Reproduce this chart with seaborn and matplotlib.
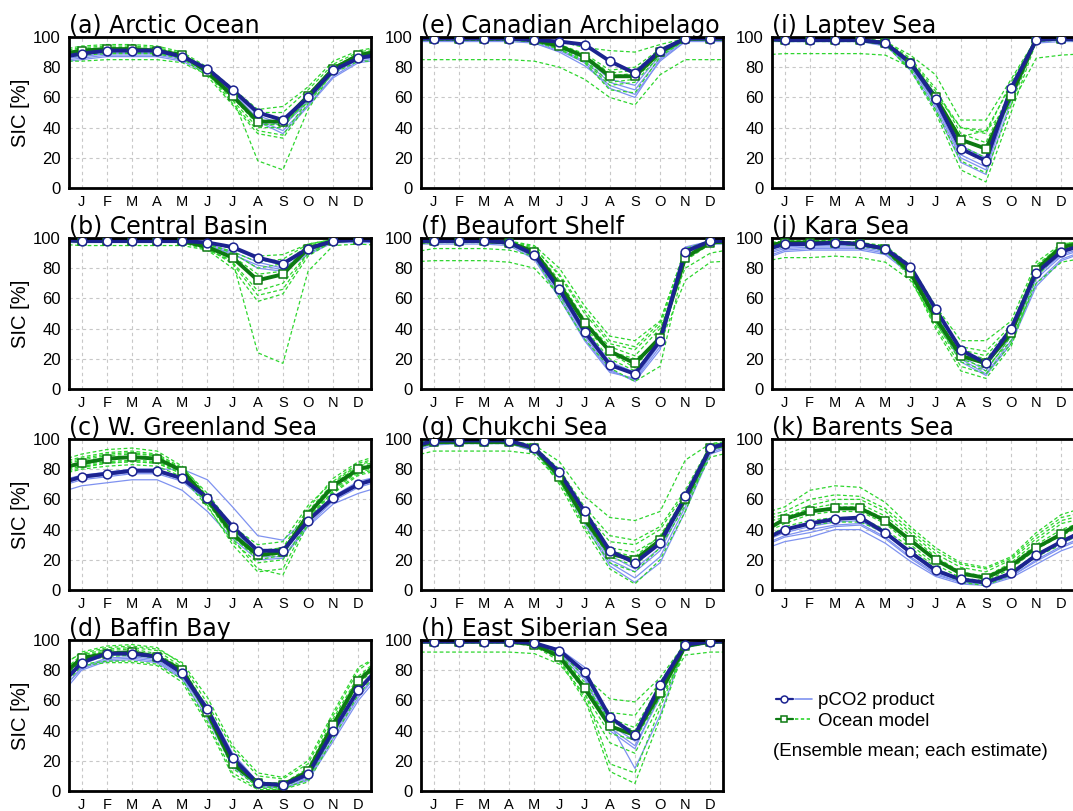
import numpy as np
import pandas as pd
import matplotlib
matplotlib.use("Agg")
import matplotlib.pyplot as plt
import seaborn as sns
from matplotlib.lines import Line2D
from matplotlib.legend_handler import HandlerTuple
from matplotlib.ticker import MultipleLocator

# ---------------- data ----------------
month_labels = ['J', 'F', 'M', 'A', 'M', 'J', 'J', 'A', 'S', 'O', 'N', 'D']
titles = ['(a) Arctic Ocean', '(b) Central Basin', '(c) W. Greenland Sea', '(d) Baffin Bay',
          '(e) Canadian Archipelago', '(f) Beaufort Shelf', '(g) Chukchi Sea', '(h) East Siberian Sea',
          '(i) Laptev Sea', '(j) Kara Sea', '(k) Barents Sea']

a_pco2_mean = [89, 91, 91, 91, 87, 79, 65, 50, 45, 60, 78, 86]
a_ocean_mean = [91, 92, 92, 91, 88, 77, 61, 44, 44, 61, 79, 88]
a_pco2_each = [[87, 89, 89, 89, 86, 78, 63, 46, 41, 57, 76, 85],
               [86, 88, 88, 88, 85, 77, 62, 45, 38, 55, 74, 84],
               [88, 90, 90, 90, 86, 79, 64, 48, 42, 58, 77, 86],
               [85, 87, 87, 87, 84, 76, 61, 44, 36, 54, 73, 83]]
a_ocean_each = [[93, 94, 94, 93, 89, 79, 64, 50, 50, 65, 82, 90],
                [90, 91, 91, 90, 87, 76, 58, 40, 40, 60, 80, 88],
                [88, 89, 89, 89, 86, 77, 60, 18, 12, 52, 78, 86],
                [84, 85, 85, 85, 83, 75, 60, 42, 42, 58, 76, 84],
                [91, 92, 92, 91, 87, 76, 56, 38, 35, 58, 78, 88],
                [94, 95, 95, 94, 90, 80, 66, 52, 54, 67, 84, 91],
                [89, 90, 90, 89, 86, 74, 55, 36, 33, 56, 77, 87],
                [92, 93, 93, 92, 88, 78, 63, 42, 42, 62, 80, 89]]

b_pco2_mean = [98, 98, 98, 98, 98, 97, 94, 87, 83, 93, 98, 99]
b_ocean_mean = [98, 98, 98, 98, 98, 94, 87, 72, 76, 93, 98, 99]
b_pco2_each = [[98, 98, 98, 98, 97, 96, 91, 84, 80, 91, 98, 98],
               [98, 98, 98, 98, 97, 95, 89, 82, 79, 90, 97, 98],
               [99, 99, 99, 99, 98, 97, 93, 86, 82, 92, 98, 99],
               [97, 97, 97, 97, 97, 95, 90, 80, 78, 89, 97, 97]]
b_ocean_each = [[95, 95, 95, 95, 95, 92, 85, 24, 17, 78, 95, 96],
                [99, 99, 99, 99, 99, 97, 93, 88, 89, 96, 99, 99],
                [98, 98, 98, 98, 97, 92, 80, 58, 63, 88, 98, 98],
                [98, 98, 98, 98, 98, 95, 88, 76, 78, 94, 99, 99],
                [98, 98, 98, 98, 97, 93, 84, 65, 70, 90, 98, 98],
                [99, 99, 99, 99, 98, 96, 90, 80, 83, 95, 99, 99],
                [98, 98, 98, 98, 97, 93, 83, 62, 66, 90, 98, 98],
                [99, 99, 99, 99, 98, 96, 91, 84, 86, 96, 99, 99]]

c_pco2_mean = [75, 77, 79, 79, 74, 61, 42, 26, 26, 46, 61, 70]
c_ocean_mean = [84, 87, 88, 87, 79, 60, 37, 23, 25, 50, 69, 80]
c_pco2_each = [[73, 75, 77, 77, 72, 58, 38, 22, 22, 43, 59, 68],
               [69, 71, 73, 73, 66, 52, 34, 20, 21, 42, 57, 64],
               [76, 78, 80, 80, 80, 73, 55, 36, 33, 48, 62, 72],
               [74, 76, 78, 78, 73, 59, 40, 24, 24, 45, 60, 69]]
c_ocean_each = [[90, 93, 94, 92, 82, 62, 40, 26, 28, 54, 74, 85],
                [80, 82, 83, 82, 75, 55, 32, 18, 20, 45, 64, 76],
                [86, 89, 90, 89, 80, 58, 34, 14, 10, 44, 70, 82],
                [82, 84, 85, 84, 77, 60, 38, 24, 27, 50, 67, 78],
                [88, 91, 92, 90, 81, 64, 42, 30, 32, 56, 72, 84],
                [83, 85, 86, 85, 78, 56, 30, 12, 14, 46, 66, 79],
                [87, 90, 91, 89, 80, 61, 36, 20, 23, 52, 71, 83],
                [81, 84, 85, 84, 77, 58, 35, 22, 24, 48, 65, 77]]

d_pco2_mean = [85, 91, 91, 89, 78, 54, 22, 5, 4, 11, 40, 67]
d_ocean_mean = [88, 91, 92, 89, 80, 52, 18, 5, 4, 13, 44, 73]
d_pco2_each = [[82, 88, 89, 87, 76, 50, 18, 3, 2, 8, 35, 62],
               [80, 86, 87, 85, 74, 48, 16, 3, 2, 7, 33, 60],
               [84, 90, 90, 88, 79, 56, 25, 6, 4, 12, 42, 66],
               [81, 87, 88, 86, 75, 52, 20, 4, 3, 9, 37, 64]]
d_ocean_each = [[92, 96, 97, 95, 84, 58, 28, 10, 8, 18, 50, 80],
                [84, 86, 86, 84, 74, 46, 12, 2, 1, 8, 38, 68],
                [90, 94, 95, 93, 82, 55, 22, 6, 5, 15, 48, 76],
                [86, 89, 90, 88, 78, 50, 15, 3, 2, 11, 42, 71],
                [91, 95, 96, 94, 85, 62, 30, 12, 9, 20, 52, 82],
                [83, 85, 85, 83, 72, 44, 10, 1, 1, 6, 35, 64],
                [89, 93, 94, 91, 81, 54, 20, 5, 3, 14, 46, 75],
                [87, 90, 91, 89, 80, 52, 17, 4, 3, 12, 44, 73]]

e_pco2_mean = [99, 99, 99, 99, 98, 97, 95, 84, 76, 91, 99, 99]
e_ocean_mean = [99, 99, 99, 99, 98, 94, 87, 74, 74, 90, 99, 99]
e_pco2_each = [[98, 98, 98, 98, 97, 92, 84, 70, 65, 86, 98, 98],
               [98, 98, 98, 98, 96, 90, 81, 68, 62, 84, 97, 98],
               [97, 97, 97, 97, 96, 91, 83, 66, 60, 85, 97, 97],
               [99, 99, 99, 99, 97, 93, 86, 72, 68, 88, 98, 99]]
e_ocean_each = [[85, 85, 85, 85, 84, 80, 72, 60, 55, 75, 85, 85],
                [99, 99, 99, 99, 99, 97, 93, 91, 90, 95, 99, 99],
                [99, 99, 99, 99, 98, 95, 88, 76, 78, 91, 99, 99],
                [98, 98, 98, 98, 97, 93, 85, 70, 72, 89, 98, 98],
                [98, 98, 98, 98, 97, 92, 83, 65, 63, 87, 98, 98],
                [99, 99, 99, 99, 98, 94, 86, 74, 76, 90, 99, 99],
                [98, 98, 98, 98, 97, 92, 84, 68, 70, 88, 98, 98],
                [99, 99, 99, 99, 98, 95, 89, 78, 80, 92, 99, 99]]

f_pco2_mean = [98, 98, 98, 97, 89, 66, 38, 16, 10, 32, 91, 98]
f_ocean_mean = [98, 98, 98, 97, 91, 69, 44, 25, 17, 34, 87, 97]
f_pco2_each = [[97, 97, 97, 96, 87, 62, 33, 12, 6, 28, 90, 97],
               [98, 98, 98, 97, 88, 64, 35, 13, 5, 26, 93, 98],
               [96, 96, 96, 95, 86, 60, 32, 11, 7, 30, 88, 96],
               [98, 98, 98, 97, 89, 67, 40, 18, 11, 34, 94, 98]]
f_ocean_each = [[85, 85, 85, 84, 80, 62, 40, 25, 20, 30, 72, 84],
                [93, 93, 93, 92, 88, 70, 45, 28, 22, 40, 80, 90],
                [99, 99, 99, 98, 95, 80, 55, 35, 32, 45, 92, 98],
                [98, 98, 98, 97, 90, 66, 40, 20, 12, 32, 88, 97],
                [97, 97, 97, 96, 88, 60, 33, 14, 5, 15, 85, 96],
                [99, 99, 99, 98, 94, 75, 50, 30, 26, 42, 90, 98],
                [98, 98, 98, 97, 92, 72, 46, 24, 14, 36, 89, 97],
                [99, 99, 99, 98, 93, 76, 52, 32, 28, 44, 93, 98]]

g_pco2_mean = [99, 99, 99, 99, 94, 78, 52, 26, 18, 31, 62, 94]
g_ocean_mean = [98, 98, 98, 98, 94, 75, 47, 24, 20, 33, 60, 94]
g_pco2_each = [[98, 98, 98, 98, 93, 75, 48, 20, 12, 26, 58, 92],
               [97, 97, 97, 97, 92, 74, 46, 18, 8, 22, 55, 91],
               [98, 98, 98, 98, 94, 77, 50, 23, 14, 28, 60, 93],
               [96, 97, 97, 97, 92, 73, 44, 16, 5, 18, 52, 90]]
g_ocean_each = [[92, 92, 92, 92, 90, 72, 46, 28, 25, 35, 58, 88],
                [99, 99, 99, 99, 96, 85, 62, 48, 46, 52, 86, 97],
                [98, 98, 98, 98, 94, 76, 48, 26, 22, 36, 62, 95],
                [97, 97, 97, 97, 93, 72, 42, 18, 12, 28, 56, 93],
                [99, 99, 99, 99, 95, 80, 55, 36, 33, 42, 66, 96],
                [98, 98, 98, 98, 93, 70, 40, 14, 4, 20, 52, 92],
                [99, 99, 99, 99, 95, 78, 52, 32, 30, 40, 64, 96],
                [98, 98, 98, 98, 94, 74, 45, 22, 16, 32, 60, 94]]

h_pco2_mean = [99, 99, 99, 99, 98, 93, 79, 49, 37, 70, 97, 99]
h_ocean_mean = [99, 99, 99, 99, 97, 89, 68, 43, 37, 65, 96, 99]
h_pco2_each = [[98, 98, 98, 98, 97, 90, 74, 42, 30, 62, 96, 98],
               [99, 99, 99, 99, 98, 94, 82, 45, 15, 50, 97, 99],
               [98, 98, 98, 98, 97, 91, 76, 40, 28, 64, 95, 98],
               [99, 99, 99, 99, 98, 92, 78, 44, 33, 66, 96, 99]]
h_ocean_each = [[92, 92, 92, 92, 91, 84, 64, 38, 34, 62, 90, 92],
                [99, 99, 99, 99, 98, 92, 76, 61, 59, 75, 98, 99],
                [99, 99, 99, 99, 97, 87, 62, 13, 5, 48, 96, 99],
                [99, 99, 99, 99, 97, 90, 70, 48, 42, 70, 97, 99],
                [98, 98, 98, 98, 96, 86, 60, 32, 25, 58, 95, 98],
                [99, 99, 99, 99, 98, 91, 72, 52, 50, 72, 98, 99],
                [99, 99, 99, 99, 97, 88, 66, 18, 12, 55, 96, 99],
                [99, 99, 99, 99, 98, 90, 70, 46, 40, 68, 97, 99]]

i_pco2_mean = [98, 98, 98, 98, 96, 83, 59, 26, 18, 66, 98, 99]
i_ocean_mean = [98, 98, 98, 98, 96, 83, 60, 32, 26, 61, 99, 99]
i_pco2_each = [[97, 97, 97, 97, 95, 80, 54, 20, 12, 62, 97, 98],
               [98, 98, 98, 98, 95, 78, 52, 17, 9, 58, 97, 98],
               [97, 97, 97, 97, 94, 81, 56, 22, 14, 64, 96, 97],
               [98, 98, 98, 98, 96, 84, 62, 28, 20, 68, 98, 98]]
i_ocean_each = [[89, 89, 89, 89, 88, 80, 62, 40, 38, 55, 86, 88],
                [99, 99, 99, 99, 97, 88, 75, 45, 45, 72, 99, 99],
                [98, 98, 98, 98, 96, 85, 64, 40, 36, 70, 99, 99],
                [98, 98, 98, 98, 96, 82, 57, 28, 20, 60, 98, 99],
                [97, 97, 97, 97, 95, 78, 50, 12, 4, 50, 97, 98],
                [99, 99, 99, 99, 97, 86, 66, 36, 30, 65, 99, 99],
                [98, 98, 98, 98, 95, 79, 52, 18, 10, 55, 98, 98],
                [99, 99, 99, 99, 97, 84, 60, 34, 38, 68, 99, 99]]

j_pco2_mean = [96, 96, 97, 96, 93, 81, 53, 26, 17, 40, 77, 91]
j_ocean_mean = [97, 97, 97, 96, 93, 77, 47, 22, 17, 37, 79, 94]
j_pco2_each = [[93, 94, 94, 94, 91, 78, 50, 22, 12, 35, 73, 88],
               [92, 93, 93, 93, 90, 77, 48, 20, 10, 32, 70, 86],
               [94, 95, 95, 95, 92, 80, 52, 25, 15, 38, 75, 89],
               [91, 92, 92, 92, 89, 76, 46, 18, 9, 30, 68, 85]]
j_ocean_each = [[87, 87, 88, 87, 84, 72, 44, 20, 14, 32, 70, 84],
                [98, 98, 98, 97, 95, 82, 55, 32, 32, 45, 84, 96],
                [97, 97, 97, 96, 93, 74, 42, 15, 10, 30, 78, 94],
                [98, 98, 98, 97, 94, 79, 50, 26, 22, 40, 82, 95],
                [96, 96, 96, 95, 92, 74, 40, 12, 7, 28, 74, 92],
                [97, 97, 97, 97, 94, 80, 52, 28, 25, 42, 81, 95],
                [96, 97, 97, 96, 92, 75, 44, 18, 12, 35, 77, 93],
                [98, 98, 98, 97, 94, 78, 48, 24, 20, 38, 80, 96]]

k_pco2_mean = [40, 44, 47, 48, 38, 25, 13, 7, 5, 11, 23, 32]
k_ocean_mean = [47, 52, 54, 54, 46, 33, 20, 11, 8, 16, 28, 37]
k_pco2_each = [[36, 40, 43, 44, 35, 22, 11, 5, 4, 9, 20, 29],
               [32, 35, 40, 40, 31, 19, 9, 4, 3, 8, 17, 26],
               [38, 42, 45, 46, 37, 24, 12, 6, 5, 10, 22, 31],
               [35, 38, 42, 43, 34, 21, 10, 5, 4, 9, 19, 28]]
k_ocean_each = [[55, 66, 69, 68, 58, 42, 28, 18, 15, 22, 38, 50],
                [50, 56, 60, 60, 52, 38, 24, 15, 12, 20, 34, 46],
                [42, 46, 48, 48, 40, 28, 15, 6, 4, 12, 24, 32],
                [46, 52, 55, 55, 47, 34, 20, 10, 8, 17, 30, 40],
                [52, 60, 63, 62, 54, 40, 26, 17, 14, 21, 36, 48],
                [40, 43, 45, 45, 38, 26, 14, 5, 3, 10, 22, 30],
                [48, 54, 57, 57, 49, 36, 22, 12, 9, 18, 32, 44],
                [44, 50, 52, 52, 44, 30, 17, 8, 6, 14, 27, 36]]

panels = [
    (a_pco2_mean, a_ocean_mean, a_pco2_each, a_ocean_each),
    (b_pco2_mean, b_ocean_mean, b_pco2_each, b_ocean_each),
    (c_pco2_mean, c_ocean_mean, c_pco2_each, c_ocean_each),
    (d_pco2_mean, d_ocean_mean, d_pco2_each, d_ocean_each),
    (e_pco2_mean, e_ocean_mean, e_pco2_each, e_ocean_each),
    (f_pco2_mean, f_ocean_mean, f_pco2_each, f_ocean_each),
    (g_pco2_mean, g_ocean_mean, g_pco2_each, g_ocean_each),
    (h_pco2_mean, h_ocean_mean, h_pco2_each, h_ocean_each),
    (i_pco2_mean, i_ocean_mean, i_pco2_each, i_ocean_each),
    (j_pco2_mean, j_ocean_mean, j_pco2_each, j_ocean_each),
    (k_pco2_mean, k_ocean_mean, k_pco2_each, k_ocean_each),
]

# ---------------- style ----------------
sns.set_style("white")
plt.rcParams['font.family'] = ['Liberation Sans', 'DejaVu Sans']
plt.rcParams['text.color'] = 'black'
plt.rcParams['axes.labelcolor'] = 'black'
plt.rcParams['xtick.color'] = 'black'
plt.rcParams['ytick.color'] = 'black'

NAVY = '#1c2390'
LIGHTBLUE = '#7f92f0'
DKGREEN = '#0d7a12'
LTGREEN = '#2ed62e'

W, H = 1073, 811
fig = plt.figure(figsize=(W / 100, H / 100), dpi=100)

col_left = [69, 421, 772]
row_top = [37, 238, 439, 640]
aw, ah = 302, 151

months = np.arange(1, 13)
xw = np.arange(0, 14)


def wrap(v):
    return [v[-1]] + list(v) + [v[0]]


def long_df(members):
    rows = []
    for k, v in enumerate(members):
        for x, y in zip(xw, wrap(v)):
            rows.append({'member': k, 'month': x, 'sic': y})
    return pd.DataFrame(rows)


for idx, (pm, om, pe, oe) in enumerate(panels):
    col, row = idx // 4, idx % 4
    left = col_left[col] / W
    bottom = 1 - (row_top[row] + ah) / H
    ax = fig.add_axes([left, bottom, aw / W, ah / H])

    ax.grid(True, which='major', ls=(0, (3, 3)), color='#c8c8c8', lw=0.8)
    ax.set_axisbelow(True)

    sns.lineplot(data=long_df(pe), x='month', y='sic', units='member', estimator=None,
                 color=LIGHTBLUE, lw=0.9, ax=ax, legend=False)
    sns.lineplot(data=long_df(oe), x='month', y='sic', units='member', estimator=None,
                 color=LTGREEN, lw=0.9, ls=(0, (3, 2)), ax=ax, legend=False)

    dfo = pd.DataFrame({'month': xw, 'sic': wrap(om)})
    dfp = pd.DataFrame({'month': xw, 'sic': wrap(pm)})
    sns.lineplot(data=dfo, x='month', y='sic', color=DKGREEN, lw=2.8, ax=ax, legend=False)
    sns.lineplot(data=dfp, x='month', y='sic', color=NAVY, lw=2.8, ax=ax, legend=False)
    sns.scatterplot(x=months, y=om, marker='s', s=38, facecolor='white', edgecolor=DKGREEN,
                    linewidth=1.1, ax=ax, zorder=5)
    sns.scatterplot(x=months, y=pm, marker='o', s=40, facecolor='white', edgecolor=NAVY,
                    linewidth=1.1, ax=ax, zorder=6)

    ax.set_xlim(0.5, 12.5)
    ax.set_ylim(0, 100)
    ax.set_xticks(months)
    ax.set_xticklabels(month_labels)
    ax.set_xticks(np.arange(0.5, 12.6, 1), minor=True)
    ax.set_yticks(np.arange(0, 101, 20))
    ax.yaxis.set_minor_locator(MultipleLocator(10))
    ax.tick_params(axis='x', which='major', direction='out', length=4, width=1.2,
                   labelsize=10.5, pad=1)
    ax.tick_params(axis='x', which='minor', direction='out', length=4, width=1.2)
    ax.tick_params(axis='y', which='major', direction='out', length=4, width=1.2,
                   labelsize=12, pad=2)
    ax.tick_params(axis='y', which='minor', direction='out', length=2.5, width=1.0)
    for sp in ax.spines.values():
        sp.set_linewidth(2.0)
        sp.set_color('black')

    ax.set_xlabel('')
    if col == 0:
        ax.set_ylabel('SIC [%]', fontsize=14.5)
        ax.yaxis.set_label_coords(-0.128, 0.5)
    else:
        ax.set_ylabel('')
    ax.set_title(titles[idx], loc='left', fontsize=17, pad=3,
                 family=['DejaVu Sans'], color='black')

# ---------------- legend ----------------
h_p = (Line2D([], [], color=NAVY, lw=1.6, marker='o', ms=5, mfc='white', mec=NAVY, mew=1.1),
       Line2D([], [], color=LIGHTBLUE, lw=1.2))
h_o = (Line2D([], [], color=DKGREEN, lw=1.6, marker='s', ms=5, mfc='white', mec=DKGREEN, mew=1.1),
       Line2D([], [], color=LTGREEN, lw=1.2, ls=(0, (2, 1.5))))
fig.legend([h_p, h_o], ['pCO2 product', 'Ocean model'],
           handler_map={tuple: HandlerTuple(ndivide=None, pad=0.1)},
           loc='center left', bbox_to_anchor=(776 / W, 1 - 711 / H), frameon=False,
           fontsize=13.5, handlelength=1.9, handletextpad=0.35, labelspacing=0.2,
           borderpad=0, borderaxespad=0)
fig.text(773 / W, 1 - 751 / H, '(Ensemble mean; each estimate)', fontsize=13.5,
         ha='left', va='center')

fig.savefig('out.png', dpi=100)
